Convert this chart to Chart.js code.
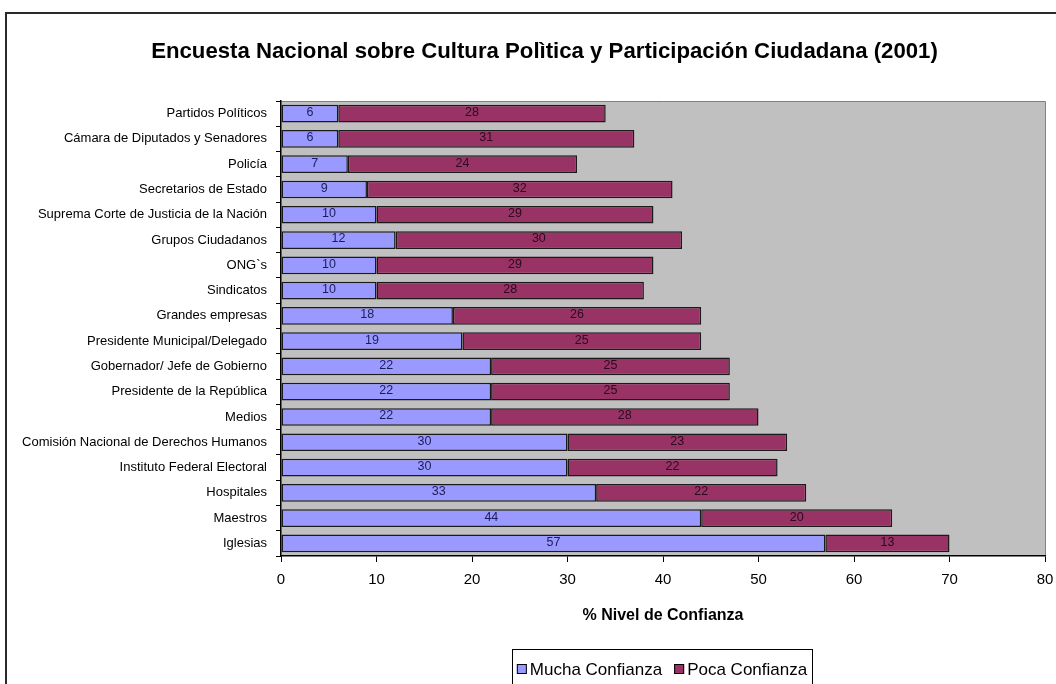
<!DOCTYPE html>
<html>
<head>
<meta charset="utf-8">
<script src="https://cdn.jsdelivr.net/npm/chart.js@4.4.1/dist/chart.umd.min.js"></script>
<style>
  html, body { margin: 0; padding: 0; background: #ffffff; }
  #wrap { width: 1056px; height: 684px; position: relative; }
</style>
</head>
<body>
<div id="wrap"><canvas id="c" width="1056" height="684"></canvas></div>
<script>
// Institutions, listed top to bottom
const categories = [
  'Partidos Políticos',
  'Cámara de Diputados y Senadores',
  'Policía',
  'Secretarios de Estado',
  'Suprema Corte de Justicia de la Nación',
  'Grupos Ciudadanos',
  'ONG`s',
  'Sindicatos',
  'Grandes empresas',
  'Presidente Municipal/Delegado',
  'Gobernador/ Jefe de Gobierno',
  'Presidente de la República',
  'Medios',
  'Comisión Nacional de Derechos Humanos',
  'Instituto Federal Electoral',
  'Hospitales',
  'Maestros',
  'Iglesias'
];

// Percent of respondents per level of trust
const muchaConfianza = [6, 6, 7, 9, 10, 12, 10, 10, 18, 19, 22, 22, 22, 30, 30, 33, 44, 57];
const pocaConfianza  = [28, 31, 24, 32, 29, 30, 29, 28, 26, 25, 25, 25, 28, 23, 22, 22, 20, 13];

const seriesNames = ['Mucha Confianza', 'Poca Confianza'];
const xTicks = [0, 10, 20, 30, 40, 50, 60, 70, 80];

const chartTitle = 'Encuesta Nacional sobre Cultura Polìtica y Participación Ciudadana (2001)';
const axisTitle = '% Nivel de Confianza';

const COLORS = ['#9999ff', '#993366'];
const LABEL_COLORS = ['#1c1c58', '#2a0a1c'];

// Grey plot area with a darker frame on top and right
const plotBackground = {
  id: 'plotBackground',
  beforeDraw(chart) {
    const { ctx, chartArea: a } = chart;
    ctx.save();
    ctx.fillStyle = '#c0c0c0';
    ctx.fillRect(a.left, a.top, a.right - a.left, a.bottom - a.top);
    ctx.strokeStyle = '#808080';
    ctx.lineWidth = 1;
    ctx.beginPath();
    ctx.moveTo(a.left, a.top + 0.5);
    ctx.lineTo(a.right + 0.5, a.top + 0.5);
    ctx.lineTo(a.right + 0.5, a.bottom);
    ctx.stroke();
    ctx.restore();
  }
};

// Value labels centred in each bar segment
const segmentLabels = {
  id: 'segmentLabels',
  afterDatasetsDraw(chart) {
    const { ctx } = chart;
    ctx.save();
    ctx.font = '12.5px "Liberation Sans", Arial, sans-serif';
    ctx.textAlign = 'center';
    ctx.textBaseline = 'middle';
    chart.data.datasets.forEach((ds, di) => {
      const meta = chart.getDatasetMeta(di);
      ctx.fillStyle = LABEL_COLORS[di];
      meta.data.forEach((bar, i) => {
        const cx = (bar.x + bar.base) / 2;
        ctx.fillText(String(ds.data[i]), cx, bar.y - 1);
      });
    });
    ctx.restore();
  }
};

// Frame, title, axis title and boxed legend
const decorations = {
  id: 'decorations',
  afterDraw(chart) {
    const { ctx, chartArea: a } = chart;
    ctx.save();

    // outer frame
    ctx.strokeStyle = '#2a2a2a';
    ctx.lineWidth = 2;
    ctx.beginPath();
    ctx.moveTo(6, 700);
    ctx.lineTo(6, 13);
    ctx.lineTo(1070, 13);
    ctx.stroke();

    // title
    ctx.fillStyle = '#000';
    ctx.textAlign = 'center';
    ctx.textBaseline = 'alphabetic';
    ctx.font = 'bold 22.2px "Liberation Sans Narrow", "Arial Narrow", "Liberation Sans", sans-serif';
    ctx.fillText(chartTitle, 544.5, 58);

    // x axis title
    ctx.font = 'bold 16px "Liberation Sans Narrow", "Arial Narrow", "Liberation Sans", sans-serif';
    ctx.fillText(axisTitle, (a.left + a.right) / 2, 620);

    // legend
    const boxL = 512, boxR = 812, boxT = 649.5;
    ctx.strokeStyle = '#000';
    ctx.lineWidth = 1;
    ctx.fillStyle = '#fff';
    ctx.fillRect(boxL, boxT, boxR - boxL, 60);
    ctx.strokeRect(boxL + 0.5, boxT, boxR - boxL, 60);

    ctx.font = '17px "Liberation Sans", Arial, sans-serif';
    ctx.textAlign = 'left';
    const w0 = ctx.measureText(seriesNames[0]).width;
    const w1 = ctx.measureText(seriesNames[1]).width;
    const sq = 10, gapSq = 3, gapItem = 12;
    const total = sq + gapSq + w0 + gapItem + sq + gapSq + w1;
    let x = (boxL + boxR) / 2 - total / 2;
    const sqTop = 664;
    [w0, w1].forEach((w, i) => {
      ctx.fillStyle = COLORS[i];
      ctx.fillRect(x, sqTop, sq, sq);
      ctx.strokeStyle = '#000';
      ctx.strokeRect(x + 0.5, sqTop + 0.5, sq - 1, sq - 1);
      ctx.fillStyle = '#000';
      ctx.fillText(seriesNames[i], x + sq + gapSq, 675);
      x += sq + gapSq + w + gapItem;
    });
    ctx.restore();
  }
};

new Chart(document.getElementById('c'), {
  type: 'bar',
  data: {
    labels: categories,
    datasets: [
      { label: seriesNames[0], data: muchaConfianza, backgroundColor: COLORS[0] },
      { label: seriesNames[1], data: pocaConfianza, backgroundColor: COLORS[1] }
    ].map(d => Object.assign(d, {
      borderColor: '#1a1a1a',
      borderWidth: 1.5,
      borderSkipped: false,
      categoryPercentage: 1,
      barPercentage: 0.7
    }))
  },
  options: {
    indexAxis: 'y',
    responsive: false,
    animation: false,
    events: [],
    layout: { padding: { top: 101, right: 11, bottom: 0, left: 0 } },
    plugins: {
      legend: { display: false },
      title: { display: false },
      tooltip: { enabled: false }
    },
    scales: {
      x: {
        stacked: true,
        min: 0,
        max: 80,
        afterBuildTicks(scale) {
          scale.ticks = xTicks.map(v => ({ value: v }));
        },
        afterFit(scale) {
          scale.height = 128;
          scale.paddingRight = 0;
          scale.paddingLeft = 0;
        },
        grid: {
          drawOnChartArea: false,
          drawTicks: true,
          tickLength: 6,
          color: '#000'
        },
        border: { display: true, color: '#000', width: 1.5 },
        ticks: {
          padding: 9,
          color: '#000',
          font: { family: '"Liberation Sans", Arial, sans-serif', size: 15 }
        }
      },
      y: {
        stacked: true,
        afterFit(scale) { scale.width = 281; },
        grid: {
          offset: true,
          drawOnChartArea: false,
          drawTicks: true,
          tickLength: 5,
          color: '#000'
        },
        border: { display: true, color: '#000', width: 1.5 },
        ticks: {
          padding: 9,
          color: '#000',
          autoSkip: false,
          font: { family: '"Liberation Sans", Arial, sans-serif', size: 13 }
        }
      }
    }
  },
  plugins: [plotBackground, segmentLabels, decorations]
});
</script>
</body>
</html>
